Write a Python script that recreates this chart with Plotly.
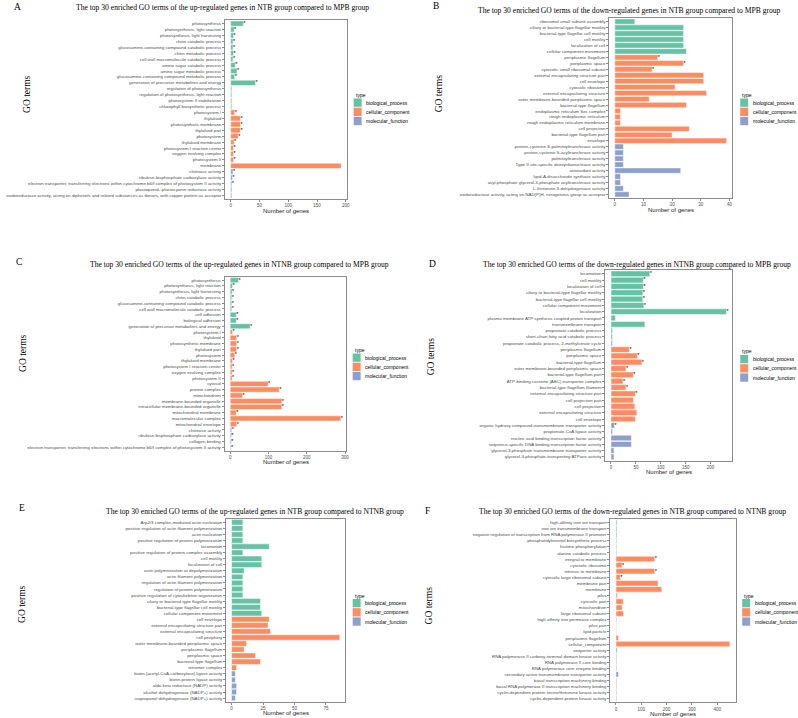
import plotly.graph_objects as go

W, H = 798, 718

TYPE_NAMES = {"B": "biological_process", "C": "cellular_component", "M": "molecular_function"}
TYPE_COLORS = {"B": "#66C2A5", "C": "#FC8D62", "M": "#8DA0CB"}

# ---------------- Panel A ----------------
a_terms = [
    "photosynthesis",
    "photosynthesis, light reaction",
    "photosynthesis, light harvesting",
    "chitin catabolic process",
    "glucosamine-containing compound catabolic process",
    "chitin metabolic process",
    "cell wall macromolecule catabolic process",
    "amino sugar catabolic process",
    "amino sugar metabolic process",
    "glucosamine-containing compound metabolic process",
    "generation of precursor metabolites and energy",
    "regulation of photosynthesis",
    "regulation of photosynthesis, light reaction",
    "photosystem II stabilization",
    "chlorophyll biosynthetic process",
    "photosystem I",
    "thylakoid",
    "photosynthetic membrane",
    "thylakoid part",
    "photosystem",
    "thylakoid membrane",
    "photosystem I reaction center",
    "oxygen evolving complex",
    "photosystem II",
    "membrane",
    "chitinase activity",
    "ribulose-bisphosphate carboxylase activity",
    "electron transporter, transferring electrons within cytochrome b6/f complex of photosystem II activity",
    "plastoquinol--plastocyanin reductase activity",
    "oxidoreductase activity, acting on diphenols and related substances as donors, with copper protein as acceptor",
]
a_counts = [22, 6, 5, 4, 4, 5, 4, 8, 11, 7, 43, 2, 2, 2, 2, 7, 17, 17, 17, 13, 6, 5, 5, 5, 192, 4, 3, 2, 2, 2]
a_types = "BBBBBBBBBBBBBBBCCCCCCCCCCMMMMM"
a_sig = "111111111110000111111111011100"
a_ticks = [0, 50, 100, 150, 200]

# ---------------- Panel B ----------------
b_terms = [
    "ribosomal small subunit assembly",
    "ciliary or bacterial-type flagellar motility",
    "bacterial-type flagellar cell motility",
    "cell motility",
    "localization of cell",
    "cellular component movement",
    "periplasmic flagellum",
    "periplasmic space",
    "cytosolic small ribosomal subunit",
    "external encapsulating structure part",
    "cell envelope",
    "cytosolic ribosome",
    "external encapsulating structure",
    "outer membrane-bounded periplasmic space",
    "bacterial-type flagellum",
    "endoplasmic reticulum Sec complex",
    "rough endoplasmic reticulum",
    "rough endoplasmic reticulum membrane",
    "cell projection",
    "bacterial-type flagellum part",
    "envelope",
    "protein-cysteine S-palmitoyltransferase activity",
    "protein-cysteine S-acyltransferase activity",
    "palmitoyltransferase activity",
    "Type II site-specific deoxyribonuclease activity",
    "antioxidant activity",
    "lipid-A-disaccharide synthase activity",
    "acyl-phosphate glycerol-3-phosphate acyltransferase activity",
    "L-threonine 3-dehydrogenase activity",
    "oxidoreductase activity, acting on NAD(P)H, nitrogenous group as acceptor",
]
b_counts = [7, 24, 24, 24, 24, 25, 15, 24, 13, 31, 31, 21, 32, 12, 25, 2, 2, 2, 26, 20, 39, 3, 3, 3, 3, 23, 2, 2, 3, 5]
b_types = "BBBBBBCCCCCCCCCCCCCCCMMMMMMMMM"
b_sig = "000000111000000000000000000000"
b_ticks = [0, 10, 20, 30, 40]

# ---------------- Panel C ----------------
c_terms = [
    "photosynthesis",
    "photosynthesis, light reaction",
    "photosynthesis, light harvesting",
    "chitin catabolic process",
    "glucosamine-containing compound catabolic process",
    "cell wall macromolecule catabolic process",
    "cell adhesion",
    "biological adhesion",
    "generation of precursor metabolites and energy",
    "photosystem I",
    "thylakoid",
    "photosynthetic membrane",
    "thylakoid part",
    "photosystem",
    "thylakoid membrane",
    "photosystem I reaction center",
    "oxygen evolving complex",
    "photosystem II",
    "cytosol",
    "protein complex",
    "mitochondrion",
    "membrane-bounded organelle",
    "intracellular membrane-bounded organelle",
    "mitochondrial membrane",
    "macromolecular complex",
    "mitochondrial envelope",
    "chitinase activity",
    "ribulose-bisphosphate carboxylase activity",
    "collagen binding",
    "electron transporter, transferring electrons within cytochrome b6/f complex of photosystem II activity",
]
c_counts = [22, 6, 5, 4, 4, 4, 16, 16, 52, 6, 17, 17, 17, 12, 6, 5, 5, 5, 99, 128, 32, 135, 135, 16, 289, 17, 4, 3, 3, 2]
c_types = "BBBBBBBBBCCCCCCCCCCCCCCCCCMMMM"
c_sig = "111111111111111111111111111111"
c_ticks = [0, 100, 200, 300]

# ---------------- Panel D ----------------
d_terms = [
    "locomotion",
    "cell motility",
    "localization of cell",
    "ciliary or bacterial-type flagellar motility",
    "bacterial-type flagellar cell motility",
    "cellular component movement",
    "localization",
    "plasma membrane ATP synthesis coupled proton transport",
    "transmembrane transport",
    "propionate catabolic process",
    "short-chain fatty acid catabolic process",
    "propionate catabolic process, 2-methylcitrate cycle",
    "periplasmic flagellum",
    "periplasmic space",
    "bacterial-type flagellum",
    "outer membrane-bounded periplasmic space",
    "bacterial-type flagellum part",
    "ATP-binding cassette (ABC) transporter complex",
    "bacterial-type flagellum filament",
    "external encapsulating structure part",
    "cell projection part",
    "cell projection",
    "external encapsulating structure",
    "cell envelope",
    "organic hydroxy compound transmembrane transporter activity",
    "propionate-CoA ligase activity",
    "nucleic acid binding transcription factor activity",
    "sequence-specific DNA binding transcription factor activity",
    "glycerol-3-phosphate transmembrane transporter activity",
    "glycerol-3-phosphate-transporting ATPase activity",
]
d_counts = [78, 65, 65, 64, 64, 66, 232, 9, 68, 3, 3, 3, 37, 53, 62, 30, 45, 24, 30, 49, 45, 48, 52, 49, 7, 3, 41, 41, 6, 6]
d_types = "BBBBBBBBBBBBCCCCCCCCCCCCMMMMMM"
d_sig = "111111100000111111110000100000"
d_ticks = [0, 50, 100, 150, 200]

# ---------------- Panel E ----------------
e_terms = [
    "Arp2/3 complex-mediated actin nucleation",
    "positive regulation of actin filament polymerization",
    "actin nucleation",
    "positive regulation of protein polymerization",
    "locomotion",
    "positive regulation of protein complex assembly",
    "cell motility",
    "localization of cell",
    "actin polymerization or depolymerization",
    "actin filament polymerization",
    "regulation of actin filament polymerization",
    "regulation of protein polymerization",
    "positive regulation of cytoskeleton organization",
    "ciliary or bacterial-type flagellar motility",
    "bacterial-type flagellar cell motility",
    "cellular component movement",
    "cell envelope",
    "external encapsulating structure part",
    "external encapsulating structure",
    "cell periphery",
    "outer membrane-bounded periplasmic space",
    "periplasmic flagellum",
    "periplasmic space",
    "bacterial-type flagellum",
    "retromer complex",
    "biotin-[acetyl-CoA-carboxylase] ligase activity",
    "biotin-protein ligase activity",
    "aldo-keto reductase (NADP) activity",
    "alcohol dehydrogenase (NADP+) activity",
    "isopropanol dehydrogenase (NADP+) activity",
]
e_counts = [9, 9, 9, 9, 30, 9, 24, 24, 10, 9, 9, 9, 9, 23, 23, 24, 30, 29, 31, 86, 12, 10, 19, 23, 4, 3, 3, 4, 4, 3]
e_types = "BBBBBBBBBBBBBBBBCCCCCCCCCMMMMM"
e_sig = "000000000000000000000000000000"
e_ticks = [0, 25, 50, 75]

# ---------------- Panel F ----------------
f_terms = [
    "high-affinity iron ion transport",
    "iron ion transmembrane transport",
    "negative regulation of transcription from RNA polymerase II promoter",
    "phosphatidylinositol biosynthetic process",
    "histone phosphorylation",
    "alanine catabolic process",
    "integral to membrane",
    "cytosolic ribosome",
    "intrinsic to membrane",
    "cytosolic large ribosomal subunit",
    "membrane part",
    "membrane",
    "pilus",
    "cytosolic part",
    "mitochondrion",
    "large ribosomal subunit",
    "high affinity iron permease complex",
    "pilus part",
    "lipid particle",
    "periplasmic flagellum",
    "cellular_component",
    "antiporter activity",
    "RNA polymerase II carboxy-terminal domain kinase activity",
    "RNA polymerase II core binding",
    "RNA polymerase core enzyme binding",
    "secondary active transmembrane transporter activity",
    "basal transcription machinery binding",
    "basal RNA polymerase II transcription machinery binding",
    "cyclin-dependent protein serine/threonine kinase activity",
    "cyclin-dependent protein kinase activity",
]
f_counts = [4, 4, 4, 3, 3, 3, 153, 24, 153, 17, 166, 181, 5, 29, 25, 30, 3, 2, 2, 10, 450, 5, 3, 3, 3, 10, 3, 3, 3, 3]
f_types = "BBBBBBCCCCCCCCCCCCCCCMMMMMMMMM"
f_sig = "000000111100000000000000000000"
f_ticks = [0, 100, 200, 300, 400]

TITLE_UP = "The top 30 enriched GO terms of the up-regulated genes in {} group compared to {} group"
TITLE_DN = "The top 30 enriched GO terms of the down-regulated genes in {} group compared to {} group"

# layout of each panel (pixels): plot frame left/right/top/bottom, title centre, letter pos,
# GO-terms label pos, legend title pos
panels = [
    dict(letter="A", terms=a_terms, counts=a_counts, types=a_types, sig=a_sig, ticks=a_ticks,
         title=TITLE_UP.format("NTB", "MPB"),
         frame=(226, 348, 20, 199), tpos=(223, 7.5), lpos=(18, 7), gpos=(27, 94), leg=(355, 95)),
    dict(letter="B", terms=b_terms, counts=b_counts, types=b_types, sig=b_sig, ticks=b_ticks,
         title=TITLE_DN.format("NTB", "MPB"),
         frame=(611.5, 735, 18, 198), tpos=(632, 10), lpos=(438, 6), gpos=(441, 93), leg=(743, 95)),
    dict(letter="C", terms=c_terms, counts=c_counts, types=c_types, sig=c_sig, ticks=c_ticks,
         title=TITLE_UP.format("NTNB", "MPB"),
         frame=(225.5, 347.7, 276.7, 450.7), tpos=(240, 264), lpos=(19, 262), gpos=(23, 353), leg=(354, 350)),
    dict(letter="D", terms=d_terms, counts=d_counts, types=d_types, sig=d_sig, ticks=d_ticks,
         title=TITLE_DN.format("NTNB", "MPB"),
         frame=(607.5, 735, 270, 460.7), tpos=(639, 264), lpos=(434, 264), gpos=(433, 356), leg=(743, 351.5)),
    dict(letter="E", terms=e_terms, counts=e_counts, types=e_types, sig=e_sig, ticks=e_ticks,
         title=TITLE_UP.format("NTB", "NTNB"),
         frame=(227, 346.5, 518.7, 701.7), tpos=(256, 511), lpos=(22, 508), gpos=(22, 604), leg=(354, 595.5)),
    dict(letter="F", terms=f_terms, counts=f_counts, types=f_types, sig=f_sig, ticks=f_ticks,
         title=TITLE_DN.format("NTB", "NTNB"),
         frame=(612.6, 738.3, 519, 702.3), tpos=(635, 511), lpos=(429, 511), gpos=(431, 605), leg=(745, 595.5)),
]

SANS = "Liberation Sans, Arial, sans-serif"
SERIF = "Liberation Serif, Times New Roman, serif"
LABEL_COL = "#4d4d4d"
FRAME_COL = "#8c8c8c"


def px(x):
    return x / W


def py(y):
    return 1 - y / H


fig = go.Figure()
annotations = []
shapes = []
layout = {}

for i, p in enumerate(panels, start=1):
    sfx = "" if i == 1 else str(i)
    xref, yref = "x" + sfx, "y" + sfx
    terms, counts, types, sig = p["terms"], p["counts"], p["types"], p["sig"]

    for code in "BCM":
        ys = [t for t, c in zip(terms, types) if c == code]
        xs = [v for v, c in zip(counts, types) if c == code]
        fig.add_trace(go.Bar(
            x=xs, y=ys, orientation="h", name=TYPE_NAMES[code],
            marker=dict(color=TYPE_COLORS[code], line=dict(color="white", width=0.5)),
            width=0.9, xaxis=xref, yaxis=yref, showlegend=False,
        ))

    sx = [v for v, s in zip(counts, sig) if s == "1"]
    sy = [t for t, s in zip(terms, sig) if s == "1"]
    if sx:
        fig.add_trace(go.Scatter(
            x=sx, y=sy, mode="text", text=["*"] * len(sx), textposition="middle right",
            textfont=dict(size=5.5, color="black", family=SANS), showlegend=False,
            xaxis=xref, yaxis=yref, cliponaxis=False, hoverinfo="skip",
        ))

    L, R, T, B = p["frame"]
    M = max(counts)
    layout["xaxis" + sfx] = dict(
        domain=[px(L), px(R)], anchor=yref, range=[-0.05 * M, 1.05 * M],
        tickmode="array", tickvals=p["ticks"], ticks="outside", ticklen=2, tickwidth=0.6,
        tickcolor=FRAME_COL, tickfont=dict(size=4.5, color=LABEL_COL, family=SANS),
        showgrid=False, zeroline=False, showline=True, mirror=True,
        linecolor=FRAME_COL, linewidth=0.9,
    )
    layout["yaxis" + sfx] = dict(
        domain=[py(B), py(T)], anchor=xref, type="category",
        categoryorder="array", categoryarray=terms, range=[len(terms) - 0.4, -0.6],
        tickmode="array", tickvals=terms, ticks="outside", ticklen=2, tickwidth=0.6,
        tickcolor=FRAME_COL, tickfont=dict(size=4.4, color=LABEL_COL, family=SANS),
        showgrid=False, zeroline=False, showline=True, mirror=True,
        linecolor=FRAME_COL, linewidth=0.9,
    )

    # legend ("type") for this panel
    lx, ly = p["leg"]
    annotations.append(dict(text="type", x=px(lx), y=py(ly), xref="paper", yref="paper",
                            xanchor="left", yanchor="middle", showarrow=False,
                            font=dict(size=5, family=SANS, color="black")))
    for k, code in enumerate("BCM"):
        y0 = ly + 3.5 + k * 9.2
        y1 = y0 + 8.3
        shapes.append(dict(type="rect", xref="paper", yref="paper",
                           x0=px(lx), x1=px(lx + 8), y0=py(y1), y1=py(y0),
                           fillcolor=TYPE_COLORS[code], line=dict(width=0)))
        annotations.append(dict(text=TYPE_NAMES[code], x=px(lx + 10.5), y=py((y0 + y1) / 2),
                                xref="paper", yref="paper", xanchor="left", yanchor="middle",
                                showarrow=False, font=dict(size=5, family=SANS, color="black")))

    tx, ty = p["tpos"]
    annotations.append(dict(text=p["title"], x=px(tx), y=py(ty), xref="paper", yref="paper",
                            xanchor="center", yanchor="middle", showarrow=False,
                            font=dict(size=7.6, family=SERIF, color="black")))
    ax_, ay_ = p["lpos"]
    annotations.append(dict(text=p["letter"], x=px(ax_), y=py(ay_), xref="paper", yref="paper",
                            xanchor="center", yanchor="middle", showarrow=False,
                            font=dict(size=9.5, family=SERIF, color="black")))
    gx, gy = p["gpos"]
    annotations.append(dict(text="GO terms", x=px(gx), y=py(gy), xref="paper", yref="paper",
                            xanchor="center", yanchor="middle", showarrow=False, textangle=-90,
                            font=dict(size=9.5, family=SERIF, color="black")))
    annotations.append(dict(text="Number of genes", x=px((L + R) / 2), y=py(B + 11.5),
                            xref="paper", yref="paper", xanchor="center", yanchor="middle",
                            showarrow=False, font=dict(size=6, family=SANS, color="#222222")))

fig.update_layout(
    width=W, height=H, autosize=False,
    margin=dict(l=0, r=0, t=0, b=0),
    paper_bgcolor="white", plot_bgcolor="white",
    barmode="relative", bargap=0.1,
    annotations=annotations, shapes=shapes,
    **layout,
)

# the page body has a default 8px margin; remove it so the figure fills the window exactly
fig.write_html("out.html", config={"displayModeBar": False},
               post_script="document.body.style.margin='0px';")
